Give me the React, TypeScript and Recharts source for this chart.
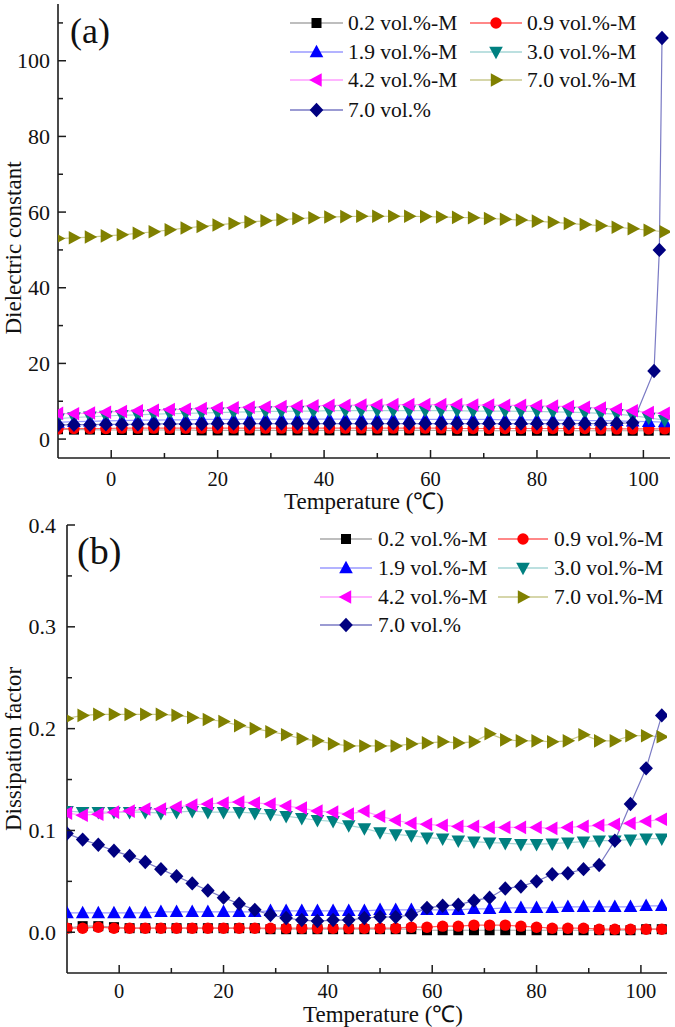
import React from 'react';
import { LineChart, Line, XAxis, YAxis, Legend } from 'recharts';

// Temperature grid (°C) shared by most series
const TEMPS = [
  -10, -7, -4, -1, 2, 5, 8, 11, 14, 17, 20, 23, 26, 29, 32, 35, 38, 41, 44, 47,
  50, 53, 56, 59, 62, 65, 68, 71, 74, 77, 80, 83, 86, 89, 92, 95, 98, 101, 104,
];
// 7.0 vol.% in panel (a) is sampled more densely at the top end
const TEMPS_A_70 = [
  -10, -7, -4, -1, 2, 5, 8, 11, 14, 17, 20, 23, 26, 29, 32, 35, 38, 41, 44, 47,
  50, 53, 56, 59, 62, 65, 68, 71, 74, 77, 80, 83, 86, 89, 92, 95, 98, 102, 103, 103.5,
];

const X_TICKS = [0, 10, 20, 30, 40, 50, 60, 70, 80, 90, 100];
const Y_TICKS_A = [0, 10, 20, 30, 40, 50, 60, 70, 80, 90, 100, 110];
const Y_TICKS_B = [0, 0.05, 0.1, 0.15, 0.2, 0.25, 0.3, 0.35, 0.4];

// (a) dielectric constant
const A_02 = [2.6, 2.5, 2.5, 2.4, 2.4, 2.4, 2.4, 2.4, 2.4, 2.3, 2.3, 2.3, 2.3, 2.3, 2.3, 2.3, 2.3, 2.3, 2.3, 2.3, 2.3, 2.3, 2.3, 2.3, 2.3, 2.2, 2.2, 2.2, 2.2, 2.2, 2.2, 2.2, 2.2, 2.2, 2.2, 2.2, 2.2, 2.2, 2.3];
const A_09 = [2.7, 2.8, 2.8, 2.8, 2.9, 2.9, 2.9, 2.9, 2.9, 2.9, 2.9, 2.9, 2.9, 2.9, 2.9, 2.9, 2.9, 2.9, 2.9, 2.9, 2.9, 2.9, 2.9, 2.9, 2.9, 2.8, 2.8, 2.8, 2.8, 2.8, 2.8, 2.8, 2.8, 2.8, 2.7, 2.7, 2.7, 2.7, 2.7];
const A_19 = [4.4, 4.6, 4.7, 4.8, 4.9, 5.0, 5.0, 5.1, 5.1, 5.2, 5.2, 5.2, 5.3, 5.3, 5.3, 5.3, 5.3, 5.3, 5.3, 5.3, 5.3, 5.3, 5.3, 5.2, 5.2, 5.2, 5.2, 5.2, 5.1, 5.1, 5.1, 5.0, 5.0, 4.9, 4.9, 4.8, 4.7, 4.6, 4.5];
const A_30 = [5.4, 5.7, 5.9, 6.1, 6.3, 6.4, 6.6, 6.7, 6.8, 6.9, 7.0, 7.1, 7.2, 7.3, 7.3, 7.4, 7.4, 7.5, 7.5, 7.5, 7.5, 7.5, 7.5, 7.5, 7.5, 7.5, 7.4, 7.4, 7.4, 7.3, 7.3, 7.2, 7.1, 7.0, 6.8, 6.6, 6.2, 5.6, 5.0];
const A_42 = [6.8, 6.7, 6.9, 7.1, 7.3, 7.5, 7.6, 7.8, 7.9, 8.1, 8.2, 8.3, 8.4, 8.5, 8.6, 8.7, 8.8, 8.9, 8.9, 9.0, 9.0, 9.1, 9.1, 9.1, 9.1, 9.1, 9.0, 9.0, 8.9, 8.9, 8.8, 8.7, 8.6, 8.4, 8.2, 7.9, 7.5, 7.0, 6.8];
const A_70M = [53.0, 53.2, 53.4, 53.7, 54.0, 54.4, 54.8, 55.3, 55.8, 56.2, 56.6, 57.0, 57.4, 57.7, 58.0, 58.3, 58.5, 58.7, 58.8, 58.9, 58.9, 58.9, 58.9, 58.8, 58.7, 58.6, 58.5, 58.3, 58.1, 57.9, 57.6, 57.3, 57.0, 56.7, 56.4, 56.0, 55.6, 55.2, 54.8];
const A_70 = [3.7, 3.8, 3.8, 3.9, 3.9, 3.9, 4.0, 4.0, 4.0, 4.0, 4.1, 4.1, 4.1, 4.1, 4.1, 4.1, 4.1, 4.1, 4.1, 4.1, 4.1, 4.1, 4.1, 4.1, 4.1, 4.1, 4.1, 4.1, 4.1, 4.1, 4.1, 4.1, 4.1, 4.1, 4.1, 4.2, 4.3, 18, 50, 106];

// (b) dissipation factor
const B_02 = [0.004, 0.006, 0.006, 0.005, 0.004, 0.004, 0.004, 0.004, 0.004, 0.004, 0.004, 0.004, 0.004, 0.003, 0.003, 0.003, 0.003, 0.003, 0.003, 0.003, 0.003, 0.003, 0.003, 0.002, 0.002, 0.002, 0.002, 0.002, 0.002, 0.002, 0.002, 0.002, 0.002, 0.002, 0.002, 0.002, 0.002, 0.003, 0.003];
const B_09 = [0.004, 0.004, 0.005, 0.004, 0.004, 0.004, 0.004, 0.004, 0.004, 0.004, 0.004, 0.004, 0.004, 0.004, 0.004, 0.004, 0.004, 0.004, 0.004, 0.004, 0.004, 0.004, 0.005, 0.005, 0.006, 0.006, 0.007, 0.007, 0.007, 0.006, 0.005, 0.004, 0.004, 0.004, 0.003, 0.003, 0.003, 0.003, 0.003];
const B_19 = [0.019, 0.019, 0.019, 0.019, 0.019, 0.019, 0.02, 0.02, 0.02, 0.02, 0.02, 0.02, 0.02, 0.021, 0.021, 0.021, 0.021, 0.021, 0.021, 0.021, 0.022, 0.022, 0.022, 0.022, 0.022, 0.022, 0.023, 0.023, 0.024, 0.024, 0.024, 0.024, 0.025, 0.025, 0.025, 0.025, 0.025, 0.026, 0.026];
const B_30 = [0.119, 0.118, 0.118, 0.118, 0.118, 0.118, 0.117, 0.118, 0.119, 0.118, 0.118, 0.118, 0.117, 0.116, 0.114, 0.112, 0.11, 0.109, 0.105, 0.102, 0.098, 0.096, 0.095, 0.093, 0.092, 0.09, 0.089, 0.088, 0.0875, 0.0865, 0.0865, 0.087, 0.088, 0.089, 0.09, 0.09, 0.091, 0.092, 0.092];
const B_42 = [0.117, 0.115, 0.116, 0.118, 0.119, 0.121, 0.121, 0.123, 0.125, 0.126, 0.127, 0.128, 0.127, 0.126, 0.124, 0.122, 0.119, 0.118, 0.116, 0.119, 0.114, 0.11, 0.107, 0.106, 0.105, 0.104, 0.104, 0.103, 0.103, 0.103, 0.103, 0.102, 0.103, 0.104, 0.105, 0.106, 0.107, 0.109, 0.111];
const B_70M = [0.21, 0.213, 0.214, 0.214, 0.214, 0.214, 0.214, 0.213, 0.211, 0.209, 0.207, 0.203, 0.2, 0.197, 0.194, 0.19, 0.188, 0.185, 0.183, 0.183, 0.183, 0.183, 0.185, 0.186, 0.187, 0.186, 0.187, 0.195, 0.189, 0.188, 0.188, 0.187, 0.188, 0.194, 0.188, 0.188, 0.193, 0.193, 0.192];
const B_70 = [0.097, 0.091, 0.086, 0.08, 0.075, 0.069, 0.062, 0.055, 0.048, 0.041, 0.034, 0.028, 0.022, 0.017, 0.014, 0.012, 0.011, 0.012, 0.012, 0.014, 0.015, 0.015, 0.017, 0.024, 0.026, 0.027, 0.031, 0.034, 0.043, 0.045, 0.05, 0.057, 0.058, 0.062, 0.066, 0.09, 0.126, 0.161, 0.213];

type Shape = 'square' | 'circle' | 'up' | 'down' | 'left' | 'right' | 'diamond';

const SERIES: { name: string; shape: Shape; fill: string; line: string }[] = [
  { name: '0.2 vol.%-M', shape: 'square', fill: '#000000', line: '#a8a8a8' },
  { name: '0.9 vol.%-M', shape: 'circle', fill: '#ff0000', line: '#ff6060' },
  { name: '1.9 vol.%-M', shape: 'up', fill: '#0000ff', line: '#9a9aff' },
  { name: '3.0 vol.%-M', shape: 'down', fill: '#008080', line: '#a6d6d6' },
  { name: '4.2 vol.%-M', shape: 'left', fill: '#ff00ff', line: '#ff9cff' },
  { name: '7.0 vol.%-M', shape: 'right', fill: '#808000', line: '#c9c98e' },
  { name: '7.0 vol.%', shape: 'diamond', fill: '#000080', line: '#7a7ac4' },
];

const FONT = '"Liberation Serif", "Times New Roman", serif';
const AXIS = '#1c1c1c';

const zip = (ts: number[], vs: number[]) => vs.map((v, i) => ({ t: ts[i], v }));

function Marker({ cx, cy, shape, fill }: { cx: number; cy: number; shape: Shape; fill: string }) {
  if (cx == null || cy == null) return null;
  switch (shape) {
    case 'square':
      return <rect x={cx - 5} y={cy - 5} width={10} height={10} fill={fill} />;
    case 'circle':
      return <circle cx={cx} cy={cy} r={5.7} fill={fill} />;
    case 'up':
      return <polygon points={`${cx},${cy - 7.3} ${cx + 6.8},${cy + 5.2} ${cx - 6.8},${cy + 5.2}`} fill={fill} />;
    case 'down':
      return <polygon points={`${cx},${cy + 7.3} ${cx + 6.8},${cy - 5.2} ${cx - 6.8},${cy - 5.2}`} fill={fill} />;
    case 'left':
      return <polygon points={`${cx - 7.3},${cy} ${cx + 5.2},${cy - 6.8} ${cx + 5.2},${cy + 6.8}`} fill={fill} />;
    case 'right':
      return <polygon points={`${cx + 7.3},${cy} ${cx - 5.2},${cy - 6.8} ${cx - 5.2},${cy + 6.8}`} fill={fill} />;
    default:
      return <polygon points={`${cx},${cy - 7.2} ${cx + 6.8},${cy} ${cx},${cy + 7.2} ${cx - 6.8},${cy}`} fill={fill} />;
  }
}

interface PanelProps {
  height: number;
  top: number;
  margin: { top: number; right: number; bottom: number; left: number };
  yWidth: number;
  xHeight: number;
  yDomain: [number, number];
  yTicks: number[];
  isMajorY: (v: number) => boolean;
  fmtY: (v: number) => string;
  yLabelGap: number;
  xLabelDy: number;
  values: number[][];
  temps: number[][];
  yTitle: string;
  yTitleDy: number;
  xTitleDx: number;
  xTitleDy: number;
  tag: string;
  tagSize: number;
  tagPos: [number, number];
  legendRows: number[];
  legendCols: { x1: number; x2: number; text: number }[];
}

function Panel(p: PanelProps) {
  const xTick = (props: any) => {
    const { x, y, payload } = props;
    const major = payload.value % 20 === 0;
    return (
      <g>
        <line x1={x} y1={y} x2={x} y2={y - (major ? 8 : 5)} stroke={AXIS} strokeWidth={1.5} />
        {major && (
          <text x={x} y={y + p.xLabelDy} textAnchor="middle" dominantBaseline="central" fontFamily={FONT} fontSize={20.5} fill="#111">
            {payload.value}
          </text>
        )}
      </g>
    );
  };
  const yTick = (props: any) => {
    const { x, y, payload } = props;
    const major = p.isMajorY(payload.value);
    return (
      <g>
        <line x1={x} y1={y} x2={x + (major ? 8 : 5)} y2={y} stroke={AXIS} strokeWidth={1.5} />
        {major && (
          <text x={x - p.yLabelGap} y={y} textAnchor="end" dominantBaseline="central" fontFamily={FONT} fontSize={22} fill="#111">
            {p.fmtY(payload.value)}
          </text>
        )}
      </g>
    );
  };
  const legend = () => (
    <svg width={675} height={160} style={{ position: 'absolute', left: 0, top: 0, overflow: 'visible' }}>
      <text x={p.tagPos[0]} y={p.tagPos[1]} dominantBaseline="central" fontFamily={FONT} fontSize={p.tagSize} fill="#111">
        {p.tag}
      </text>
      {SERIES.map((s, i) => {
        const row = p.legendRows[Math.floor(i / 2)];
        const col = p.legendCols[i % 2];
        const mx = (col.x1 + col.x2) / 2;
        return (
          <g key={s.name}>
            <line x1={col.x1} y1={row} x2={col.x2} y2={row} stroke={s.line} strokeWidth={1.3} />
            <Marker cx={mx} cy={row} shape={s.shape} fill={s.fill} />
            <text x={col.text} y={row} dominantBaseline="central" fontFamily={FONT} fontSize={21.5} fill="#111">
              {s.name}
            </text>
          </g>
        );
      })}
    </svg>
  );
  const axisLine = { stroke: AXIS, strokeWidth: 1.6 };
  return (
    <div style={{ position: 'absolute', left: 0, top: p.top }}>
      <LineChart width={675} height={p.height} margin={p.margin}>
        <XAxis
          dataKey="t"
          type="number"
          domain={[-10, 105]}
          allowDataOverflow
          ticks={X_TICKS}
          tickSize={0}
          tickMargin={0}
          tickLine={false}
          tick={xTick}
          axisLine={axisLine}
          height={p.xHeight}
          label={{
            content: (lp: any) => {
              const vb = lp.viewBox;
              return (
                <text x={vb.x + vb.width / 2 + p.xTitleDx} y={vb.y + p.xTitleDy} textAnchor="middle" dominantBaseline="central" fontFamily={FONT} fontSize={23} fill="#111">
                  Temperature (℃)
                </text>
              );
            },
          }}
        />
        <XAxis xAxisId="top" orientation="top" type="number" domain={[-10, 105]} allowDataOverflow height={0} tick={false} tickLine={false} axisLine={axisLine} />
        <YAxis
          type="number"
          domain={p.yDomain}
          allowDataOverflow
          ticks={p.yTicks}
          tickSize={0}
          tickMargin={0}
          tickLine={false}
          tick={yTick}
          axisLine={axisLine}
          width={p.yWidth}
          label={{
            content: (lp: any) => {
              const vb = lp.viewBox;
              const cx = vb.x + 13;
              const cy = vb.y + vb.height / 2 + p.yTitleDy;
              return (
                <text x={cx} y={cy} transform={`rotate(-90 ${cx} ${cy})`} textAnchor="middle" dominantBaseline="central" fontFamily={FONT} fontSize={23} fill="#111">
                  {p.yTitle}
                </text>
              );
            },
          }}
        />
        <YAxis yAxisId="right" orientation="right" type="number" domain={p.yDomain} allowDataOverflow width={0} tick={false} tickLine={false} axisLine={axisLine} />
        {SERIES.map((s, i) => (
          <Line
            key={s.name}
            name={s.name}
            data={zip(p.temps[i], p.values[i])}
            dataKey="v"
            stroke={s.line}
            strokeWidth={1.2}
            isAnimationActive={false}
            activeDot={false}
            dot={(dp: any) => <Marker key={`${s.name}-${dp.index}`} cx={dp.cx} cy={dp.cy} shape={s.shape} fill={s.fill} />}
          />
        ))}
        <Legend layout="horizontal" verticalAlign="middle" align="center" content={legend} wrapperStyle={{ left: 0, top: 0, width: 675, height: 160 }} />
      </LineChart>
    </div>
  );
}

export default function App() {
  return (
    <div style={{ position: 'absolute', left: 0, top: 0, width: 675, height: 1027, background: '#fff' }}>
      <Panel
        top={0}
        height={525}
        margin={{ top: 4, right: 5, bottom: 0, left: 0 }}
        yWidth={58}
        xHeight={67}
        yDomain={[-5, 115]}
        yTicks={Y_TICKS_A}
        isMajorY={(v) => v % 20 === 0}
        fmtY={(v) => String(v)}
        yLabelGap={8}
        xLabelDy={21}
        values={[A_02, A_09, A_19, A_30, A_42, A_70M, A_70]}
        temps={[TEMPS, TEMPS, TEMPS, TEMPS, TEMPS, TEMPS, TEMPS_A_70]}
        yTitle="Dielectric constant"
        yTitleDy={17}
        xTitleDx={0}
        xTitleDy={43}
        tag="(a)"
        tagSize={36}
        tagPos={[70, 31]}
        legendRows={[23, 52, 80, 110]}
        legendCols={[
          { x1: 290, x2: 343, text: 348 },
          { x1: 470, x2: 522, text: 527 },
        ]}
      />
      <Panel
        top={505}
        height={522}
        margin={{ top: 20, right: 8, bottom: 0, left: 0 }}
        yWidth={67}
        xHeight={54}
        yDomain={[-0.04, 0.4]}
        yTicks={Y_TICKS_B}
        isMajorY={(v) => Math.round(v * 100) % 10 === 0}
        fmtY={(v) => v.toFixed(1)}
        yLabelGap={11}
        xLabelDy={18}
        values={[B_02, B_09, B_19, B_30, B_42, B_70M, B_70]}
        temps={[TEMPS, TEMPS, TEMPS, TEMPS, TEMPS, TEMPS, TEMPS]}
        yTitle="Dissipation factor"
        yTitleDy={0}
        xTitleDx={16}
        xTitleDy={41}
        tag="(b)"
        tagSize={38}
        tagPos={[77, 46]}
        legendRows={[34, 63, 92, 120]}
        legendCols={[
          { x1: 320, x2: 372, text: 378 },
          { x1: 498, x2: 548, text: 554 },
        ]}
      />
    </div>
  );
}
